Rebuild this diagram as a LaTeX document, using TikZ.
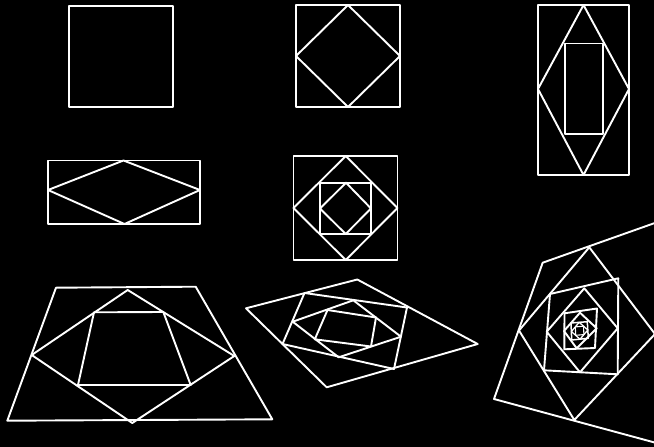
\documentclass[tikz,border=0pt]{standalone}
\begin{document}
\begin{tikzpicture}[x=1pt,y=-1pt,line join=round,
  shp/.style={draw=white,line width=1.9pt}]
\fill[black] (0,0) rectangle (654,447);
\useasboundingbox (0,0) rectangle (654,447);
\clip (0,0) rectangle (654,447);
% 1 square
\draw[shp] (69,6) rectangle (173,107);
% 2 square + diamond
\draw[shp] (296,5) rectangle (400,107);
\draw[shp] (348,5) -- (400,56) -- (348,107) -- (296,56) -- cycle;
% 3 tall rectangle
\draw[shp] (538,5) rectangle (629,175);
\draw[shp] (583.5,5) -- (629,89) -- (583.5,175) -- (538,89) -- cycle;
\draw[shp] (565,43.5) rectangle (603,134);
% 4 wide rectangle
\draw[shp] (48,160.5) rectangle (200,224);
\draw[shp] (123.5,160.5) -- (200,190) -- (124.5,224) -- (48,190) -- cycle;
% 5 nested squares
\draw[shp] (293.5,156) rectangle (397.5,260);
\draw[shp] (345.7,156) -- (397.5,208) -- (345.7,260) -- (293.5,208) -- cycle;
\draw[shp] (320,182.7) rectangle (371,234);
\draw[shp] (346,182.7) -- (371,208.5) -- (345.7,234) -- (320,208.5) -- cycle;
% 6 trapezoid
\draw[shp] (56,287.7) -- (195.7,286.7) -- (272.3,419.3) -- (7.3,420.7) -- cycle;
\draw[shp] (127.7,290) -- (234.3,356) -- (132.3,423) -- (31.7,355) -- cycle;
\draw[shp] (94,312.3) -- (163.3,312) -- (190.7,385) -- (78,385) -- cycle;
% 7 rhombus
\draw[shp] (246,308.3) -- (357.3,279.5) -- (477.7,344) -- (326.7,387.3) -- cycle;
\draw[shp] (304.5,293) -- (407,307.5) -- (394,369) -- (282.5,344) -- cycle;
\draw[shp] (292.7,321.7) -- (353.3,300.3) -- (401,336.7) -- (338.7,357.3) -- cycle;
\draw[shp] (327.5,310) -- (376,317.5) -- (371,346.5) -- (314.8,339.3) -- cycle;
% 8 spiral
\draw[shp] (700,207) -- (542.7,262.7) -- (494,399) -- (700,454.8);
\draw[shp] (589.3,247.3) -- (655,334) -- (574.3,420) -- (519,330.5) -- cycle;
\draw[shp] (550,294) -- (618.3,278.3) -- (617.7,374.3) -- (544,370.3) -- cycle;
\draw[shp] (584.3,288.3) -- (617.7,328.3) -- (580,372.3) -- (546.7,331.7) -- cycle;
\draw[shp] (564.5,313.3) -- (597,308.5) -- (595,348) -- (564.3,349.3) -- cycle;
\draw[shp] (580,312.7) -- (596.7,328.3) -- (576.7,348.3) -- (564,331) -- cycle;
\draw[shp,line width=1.5pt] (571,323) -- (587.3,321.7) -- (588.3,338.3) -- (571.7,340) -- cycle;
\draw[shp,line width=1.3pt] (579.2,322.3) -- (587.8,330) -- (580,339.2) -- (571.4,331.5) -- cycle;
\draw[shp,line width=1.1pt] (583.5,326.2) -- (583.9,334.6) -- (575.7,335.3) -- (575.3,326.9) -- cycle;
\end{tikzpicture}
\end{document}
